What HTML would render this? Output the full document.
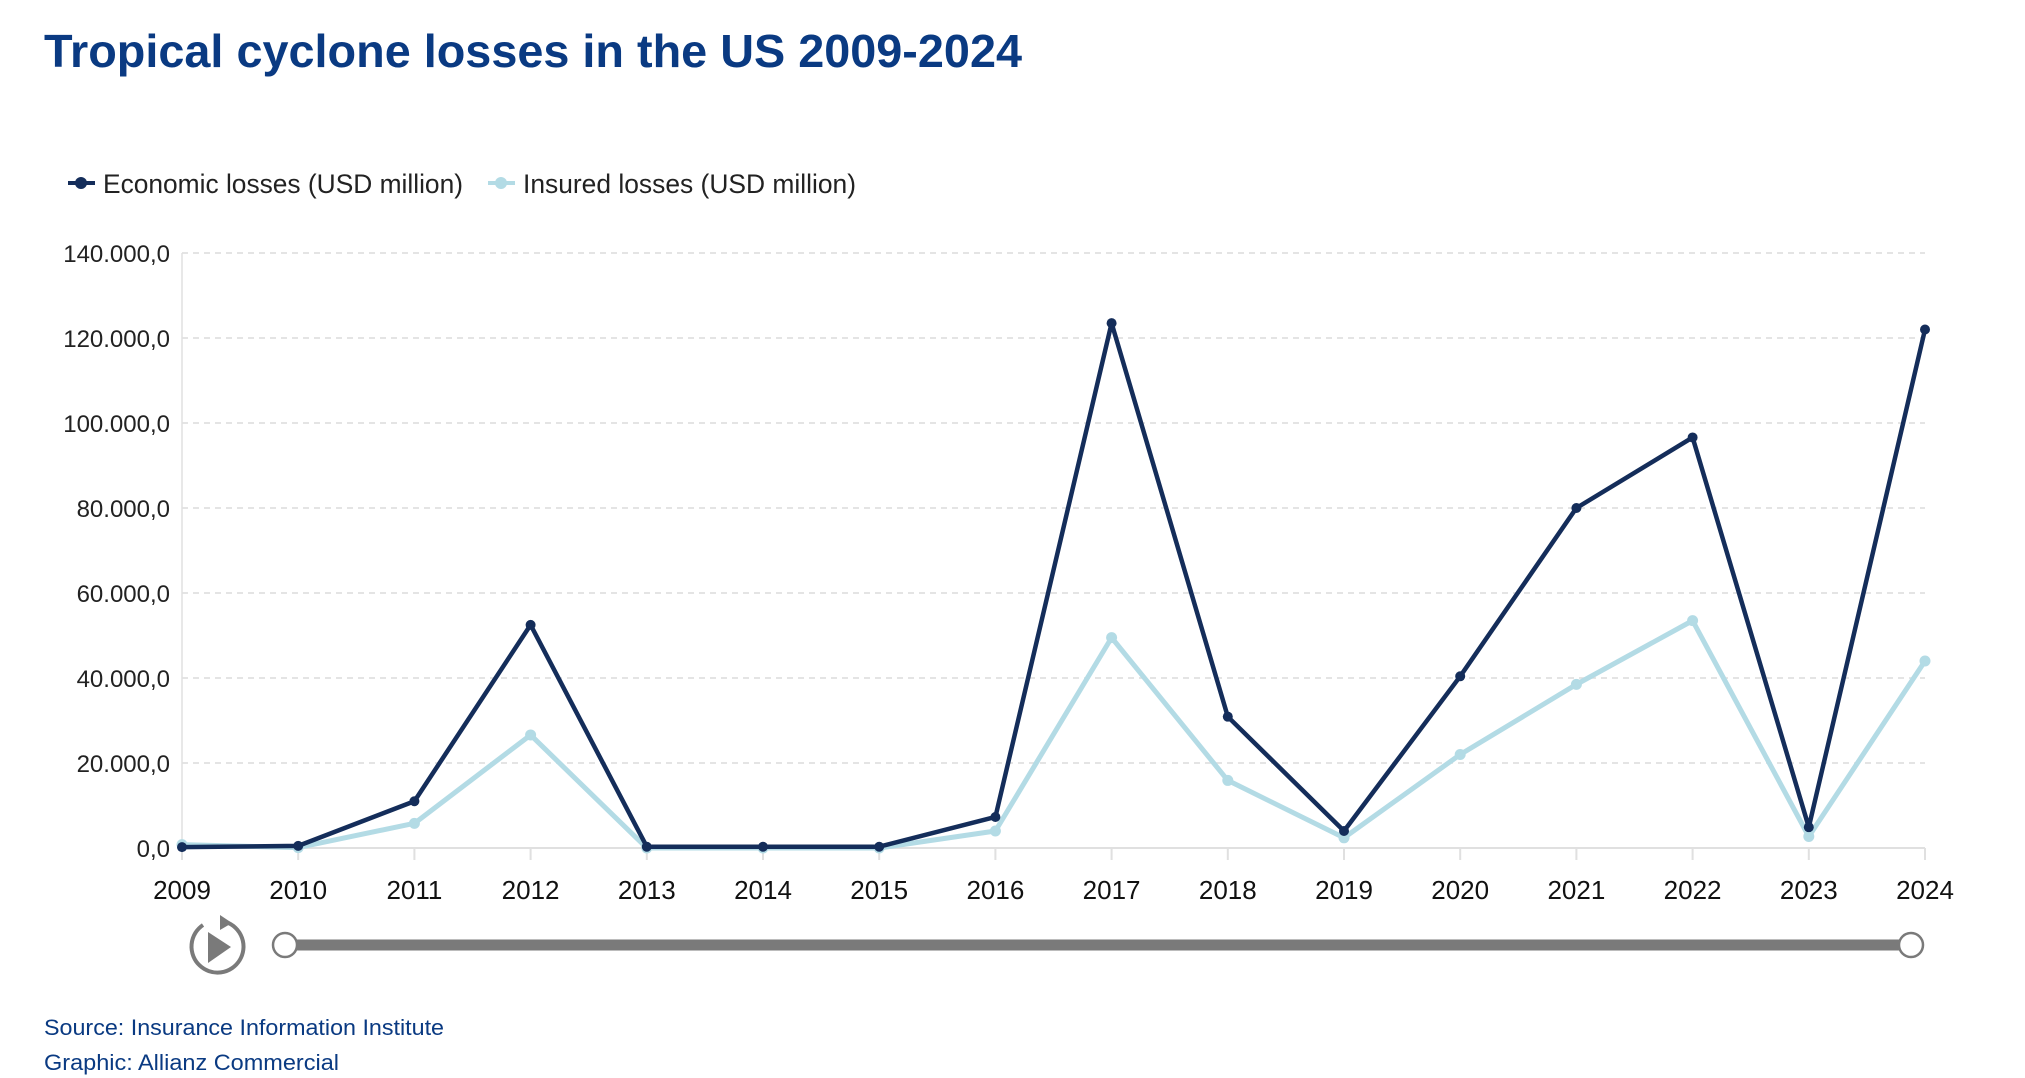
<!DOCTYPE html>
<html><head><meta charset="utf-8">
<style>
html,body{margin:0;padding:0;background:#fff;}
body{width:2025px;height:1078px;overflow:hidden;font-family:"Liberation Sans",sans-serif;}
svg{display:block;}
</style></head>
<body>
<svg id="chart" width="2025" height="1078" viewBox="0 0 2025 1078" xmlns="http://www.w3.org/2000/svg">
<text x="44" y="67" font-size="46" font-weight="bold" fill="#0a3a82" textLength="978" lengthAdjust="spacingAndGlyphs">Tropical cyclone losses in the US 2009-2024</text>
<g>
 <g>
  <line x1="68" y1="183" x2="95" y2="183" stroke="#142d5a" stroke-width="4"/>
  <circle cx="81" cy="183" r="6" fill="#142d5a"/>
  <text x="103" y="193" font-size="27" fill="#222" textLength="360" lengthAdjust="spacingAndGlyphs">Economic losses (USD million)</text>
 </g>
 <g>
  <line x1="488" y1="183" x2="515" y2="183" stroke="#b3dbe5" stroke-width="4"/>
  <circle cx="501" cy="183" r="6" fill="#b3dbe5"/>
  <text x="523" y="193" font-size="27" fill="#222" textLength="333" lengthAdjust="spacingAndGlyphs">Insured losses (USD million)</text>
 </g>
</g>
<g id="grid"></g>
<g id="yaxis"></g>
<g id="xaxis"></g>
<g id="series"></g>
<g transform="translate(0,-3)">
 <path d="M 226 925 A 26 26 0 1 1 203 928" fill="none" stroke="#7a7a7a" stroke-width="4"/>
 <path d="M 220 918 L 232 926 L 220 933 Z" fill="#7a7a7a"/>
 <path d="M 208 935 L 208 966 L 231 950 Z" fill="#7a7a7a"/>
</g>
<g>
 <line x1="285" y1="945" x2="1911" y2="945" stroke="#7a7a7a" stroke-width="11"/>
 <circle cx="285" cy="945" r="12" fill="#fff" stroke="#7a7a7a" stroke-width="2.5"/>
 <circle cx="1911" cy="945" r="12" fill="#fff" stroke="#7a7a7a" stroke-width="2.5"/>
</g>
<text x="44" y="1035" font-size="22" fill="#0a3a82" textLength="400" lengthAdjust="spacingAndGlyphs">Source: Insurance Information Institute</text>
<text x="44" y="1070" font-size="22" fill="#0a3a82" textLength="295" lengthAdjust="spacingAndGlyphs">Graphic: Allianz Commercial</text>
</svg>
<script>
const years = [2009,2010,2011,2012,2013,2014,2015,2016,2017,2018,2019,2020,2021,2022,2023,2024];
const economicLosses = [200,500,11000,52500,300,300,300,7300,123500,30900,4000,40400,80000,96600,4900,122000];
const insuredLosses = [800,100,5800,26600,0,0,0,4000,49500,15900,2400,22000,38500,53500,2700,44000];
const yTickValues = [0,20000,40000,60000,80000,100000,120000,140000];
const yTickLabels = ["0,0","20.000,0","40.000,0","60.000,0","80.000,0","100.000,0","120.000,0","140.000,0"];

const NS = "http://www.w3.org/2000/svg";
const X0 = 182, X1 = 1925, Y0 = 848, Ytop = 253, YMAX = 140000;
function xScale(i){ return X0 + (X1 - X0) * i / (years.length - 1); }
function yScale(v){ return Y0 - (Y0 - Ytop) * v / YMAX; }
function mk(tag, attrs, parent){ const e = document.createElementNS(NS, tag); for (const k in attrs) e.setAttribute(k, attrs[k]); parent.appendChild(e); return e; }

const grid = document.getElementById('grid');
const yaxis = document.getElementById('yaxis');
const xaxis = document.getElementById('xaxis');
const series = document.getElementById('series');

yTickValues.forEach((v, i) => {
  const y = yScale(v);
  if (v > 0) {
    const g = mk('line', {x1: X0, x2: X1, y1: y, y2: y, stroke: '#dcdcdc', 'stroke-width': 1.5, 'stroke-dasharray': '6,5'}, grid);
    
    
  }
  const t = mk('text', {x: X0 - 12, y: y + 9, 'font-size': 24, 'text-anchor': 'end', fill: '#222'}, yaxis);
  
  
  t.textContent = yTickLabels[i];
});
const ax = mk('line', {x1: X0, x2: X0, y1: Ytop, y2: Y0, stroke: '#e0e0e0', 'stroke-width': 1.5}, yaxis);


const bx = mk('line', {x1: X0, x2: X1, y1: Y0, y2: Y0, stroke: '#e0e0e0', 'stroke-width': 2}, xaxis);



years.forEach((yr, i) => {
  const x = xScale(i);
  const tk = mk('line', {x1: x, x2: x, y1: Y0, y2: Y0 + 12, stroke: '#e0e0e0', 'stroke-width': 2}, xaxis);
  
  
  const t = mk('text', {x: x, y: Y0 + 51, 'font-size': 26, 'text-anchor': 'middle', fill: '#111'}, xaxis);
  
  
  t.textContent = yr;
});

function drawSeries(vals, color, width, r, name){
  const g = mk('g', {}, series);
  
  
  const pts = vals.map((v, i) => xScale(i) + ',' + yScale(v)).join(' ');
  const pl = mk('polyline', {points: pts, fill: 'none', stroke: color, 'stroke-width': width, 'stroke-linejoin': 'round'}, g);
  
  
  vals.forEach((v, i) => {
    const c = mk('circle', {cx: xScale(i), cy: yScale(v), r: r, fill: color}, g);
    
    
  });
}
drawSeries(insuredLosses, '#b3dbe5', 5, 5.5, 'insured-losses-series');
drawSeries(economicLosses, '#142d5a', 4.5, 5, 'economic-losses-series');
</script>
</body></html>
